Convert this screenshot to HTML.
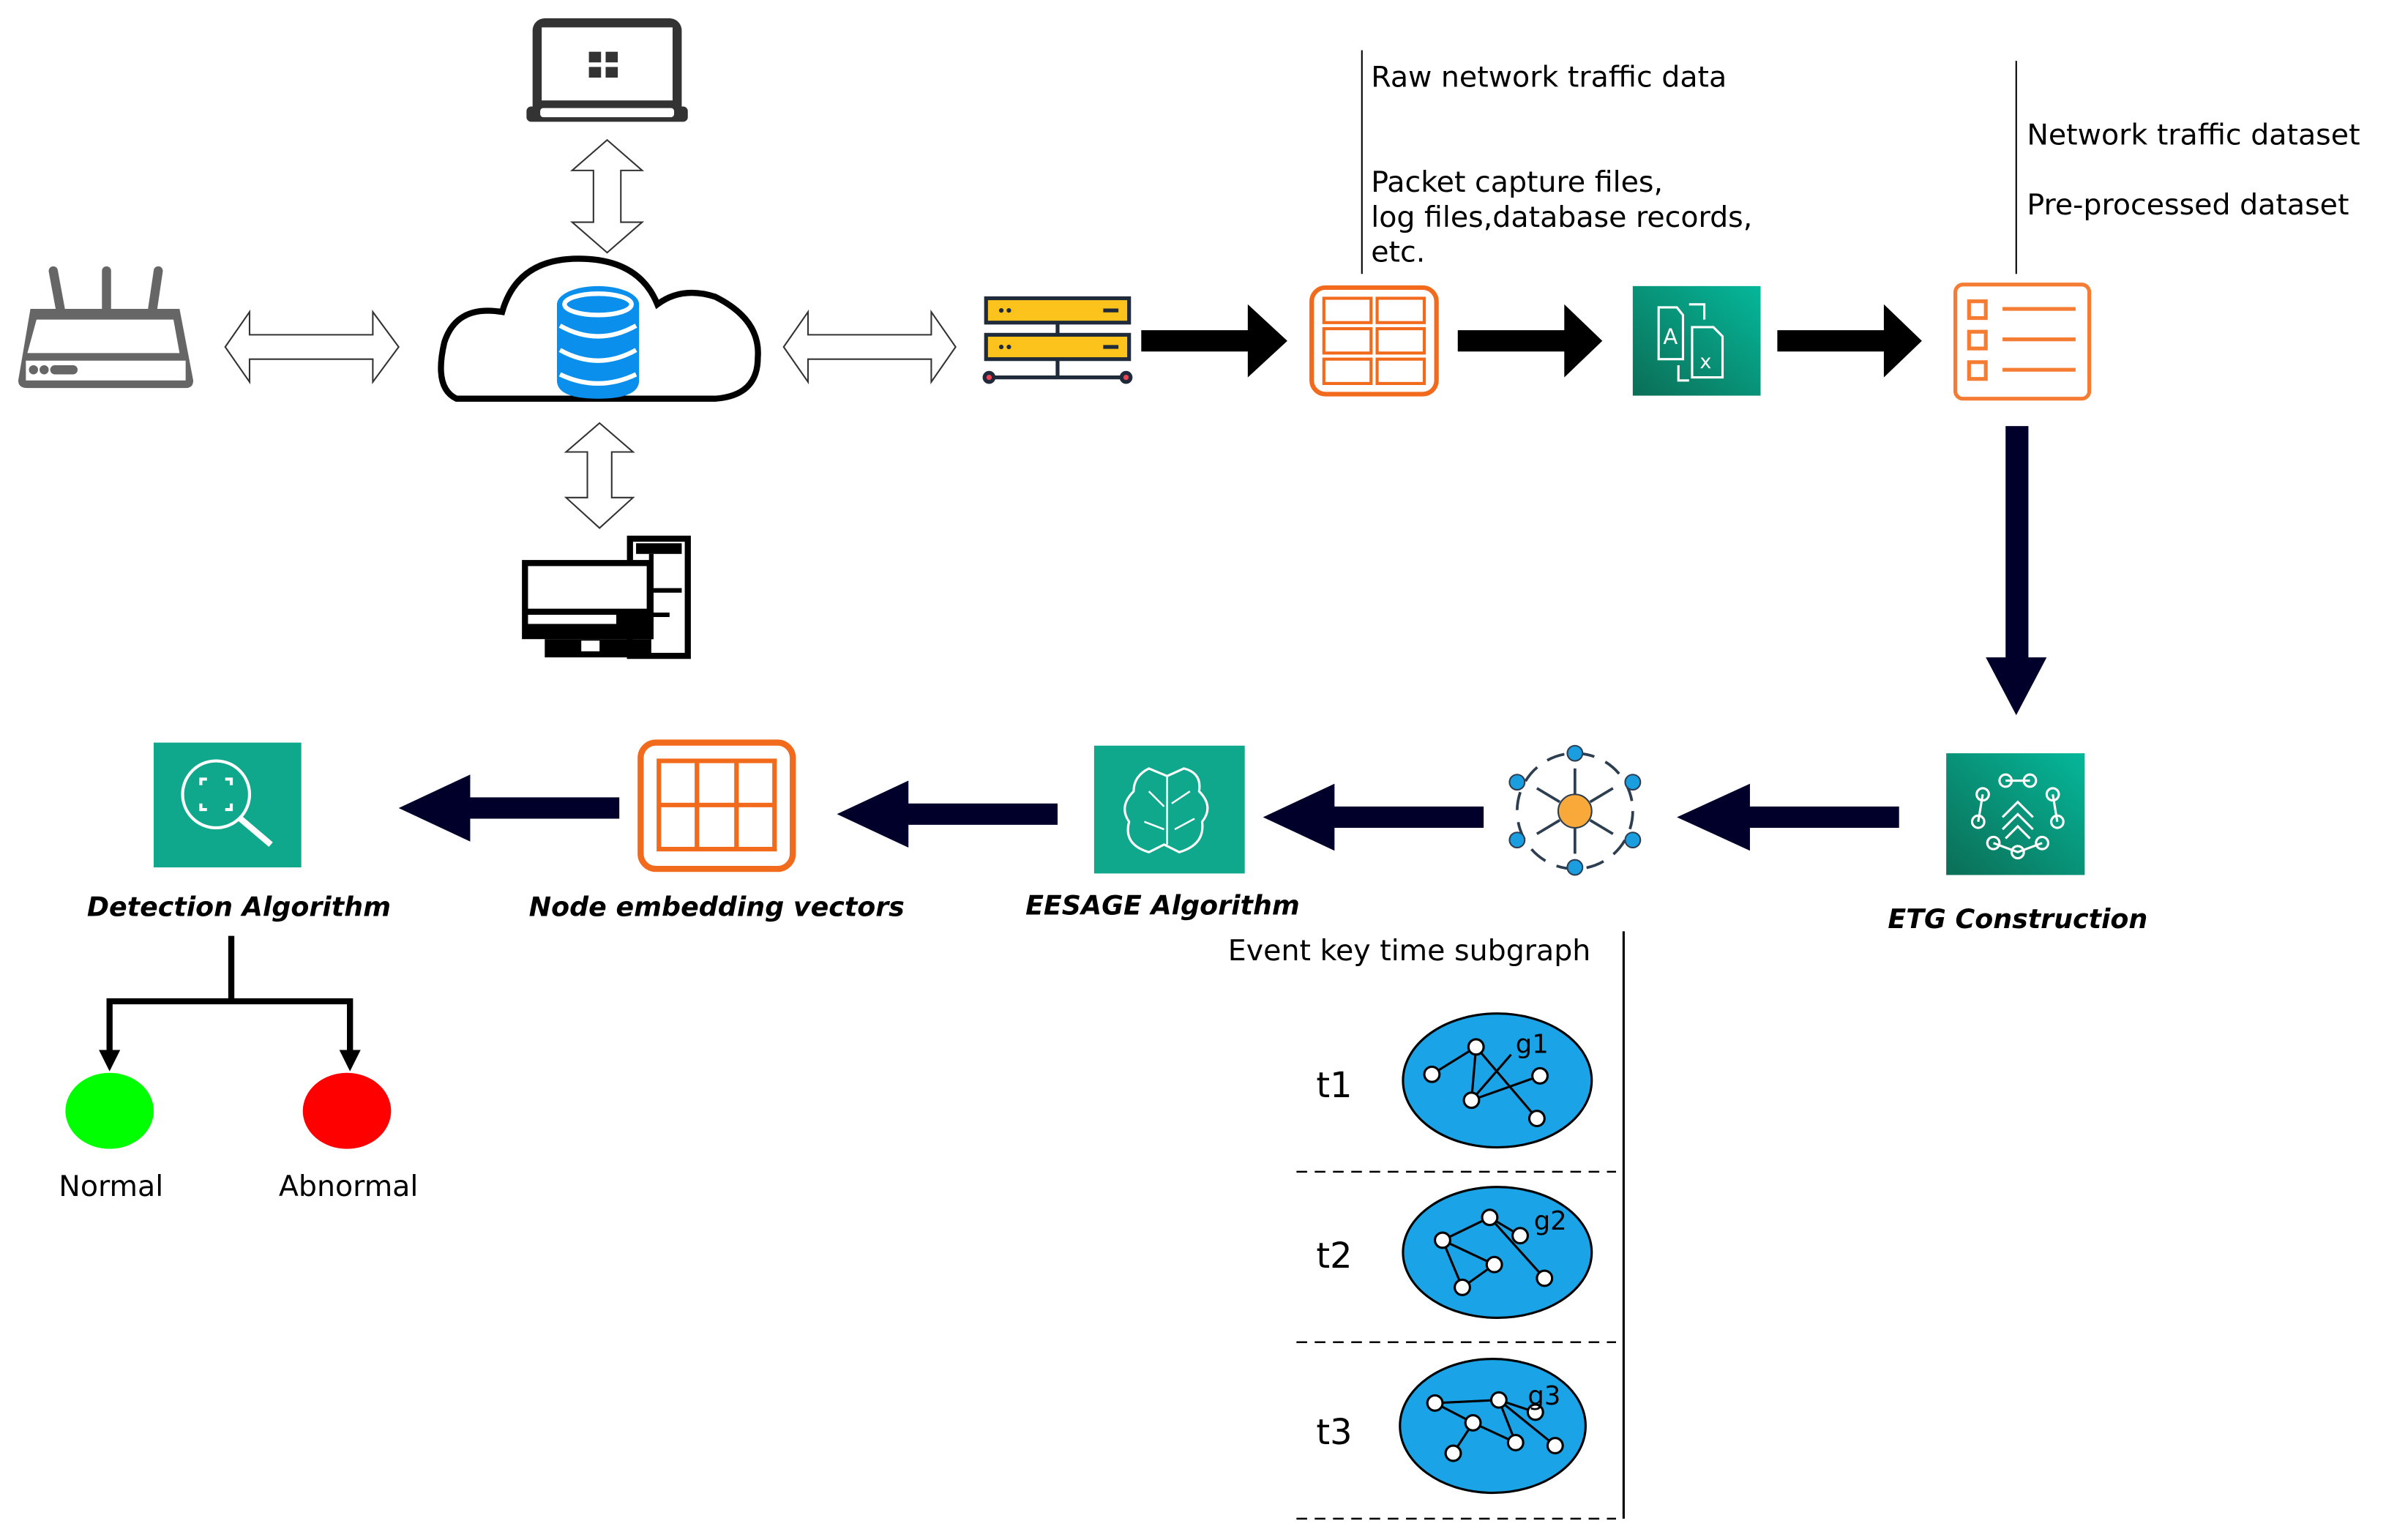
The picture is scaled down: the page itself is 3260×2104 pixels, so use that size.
<!DOCTYPE html>
<html><head><meta charset="utf-8"><style>html,body{margin:0;padding:0;background:#fff}svg{display:block}text{font-family:"DejaVu Sans","Liberation Sans",sans-serif}</style></head><body>
<svg width="3260" height="2104" viewBox="0 0 1568 1012" preserveAspectRatio="none" xmlns="http://www.w3.org/2000/svg">
<defs>
<linearGradient id="gr" x1="0" y1="1" x2="1" y2="0"><stop offset="0" stop-color="#0b6e56"/><stop offset="1" stop-color="#05b79a"/></linearGradient>
</defs>
<!-- router -->
<g fill="#666" stroke="#666">
<line x1="35" y1="178" x2="40" y2="205" stroke-width="6" stroke-linecap="round"/>
<line x1="70" y1="178" x2="70" y2="205" stroke-width="6" stroke-linecap="round"/>
<line x1="104" y1="178" x2="100" y2="205" stroke-width="6" stroke-linecap="round"/>
<path d="M20 203 H118 L127 250 Q127 255 122 255 H18 Q12 255 12 250 Z" stroke="none"/>
<path d="M24 210 H114 L118 232 H18 Z" fill="#fff" stroke="none"/>
<rect x="17" y="237" width="105" height="13" fill="#fff" stroke="none"/>
<circle cx="22" cy="243" r="3" stroke="none"/><circle cx="29" cy="243" r="3" stroke="none"/><rect x="33" y="240" width="18" height="6" rx="3" stroke="none"/>
</g>
<!-- double arrows -->
<g fill="#fff" stroke="#333" stroke-width="1">
<path d="M148 228 L164 205 V220 H245 V205 L262 228 L245 251 V236 H164 V251 Z"/>
<path d="M515 228 L531 205 V220 H612 V205 L628 228 L612 251 V236 H531 V251 Z"/>
<path d="M399 92 L422 112 H408 V146 H422 L399 166 L376 146 H390 V112 H376 Z"/>
<path d="M394 278 L416 297 H402 V327 H416 L394 347 L372 327 H386 V297 H372 Z"/>
</g>
<!-- laptop -->
<g fill="#333">
<rect x="350" y="12" width="98" height="66" rx="8"/>
<rect x="356" y="18" width="86" height="48" fill="#fff"/>
<rect x="346" y="70" width="106" height="10" rx="3"/>
<rect x="355" y="71" width="88" height="6" rx="2" fill="#fff"/>
<rect x="387" y="34" width="8" height="7"/><rect x="398" y="34" width="8" height="7"/><rect x="387" y="44" width="8" height="7"/><rect x="398" y="44" width="8" height="7"/>
</g>
<!-- cloud -->
<path d="M300 262 Q285 255 292 225 Q300 200 330 205 Q340 170 380 170 Q420 170 432 200 Q448 188 470 195 Q500 210 498 235 Q498 260 470 262 Z" fill="#fff" stroke="#000" stroke-width="4"/>
<g fill="#0a8fec">
<ellipse cx="393" cy="200" rx="27" ry="12"/>
<path d="M366 200 V250 Q366 262 393 262 Q420 262 420 250 V200 Z"/>
</g>
<g fill="none" stroke="#fff" stroke-width="3">
<ellipse cx="393" cy="200" rx="22" ry="7"/>
<path d="M368 214 Q393 228 418 214 M368 230 Q393 244 418 230 M368 246 Q393 258 418 246"/>
</g>
<!-- desktop -->
<rect x="414" y="354" width="38" height="77" fill="#fff" stroke="#000" stroke-width="4"/>
<rect x="418" y="357" width="30" height="7" fill="#000"/>
<path d="M428 364 V420 M428 388 H448 M428 404 H440" stroke="#000" stroke-width="3" fill="none"/>
<rect x="343" y="368" width="86" height="52" fill="#000"/>
<rect x="347" y="372" width="78" height="28" fill="#fff"/>
<rect x="347" y="404" width="58" height="6" fill="#fff"/>
<rect x="358" y="420" width="70" height="12" fill="#000"/>
<rect x="382" y="421" width="12" height="7" fill="#fff"/>
<!-- server -->
<g stroke="#1f2a3a" stroke-width="2.5">
<rect x="648" y="196" width="94" height="16" fill="#fbc31b"/>
<rect x="648" y="220" width="94" height="16" fill="#fbc31b"/>
<line x1="695" y1="212" x2="695" y2="220"/><line x1="695" y1="236" x2="695" y2="248"/>
<line x1="650" y1="248" x2="740" y2="248"/>
<circle cx="650" cy="248" r="3" fill="#e45"/><circle cx="740" cy="248" r="3" fill="#e45"/>
<line x1="725" y1="204" x2="735" y2="204"/><line x1="725" y1="228" x2="735" y2="228"/>
</g>
<g fill="#1f2a3a"><circle cx="658" cy="204" r="1.5"/><circle cx="663" cy="204" r="1.5"/><circle cx="658" cy="228" r="1.5"/><circle cx="663" cy="228" r="1.5"/></g>
<!-- black arrows -->
<g fill="#000">
<path d="M750 217 H820 V200 L846 224 L820 248 V231 H750 Z"/>
<path d="M958 217 H1028 V200 L1053 224 L1028 248 V231 H958 Z"/>
<path d="M1168 217 H1238 V200 L1263 224 L1238 248 V231 H1168 Z"/>
</g>
<!-- orange grid -->
<rect x="862" y="189" width="82" height="70" rx="9" fill="none" stroke="#f26b1d" stroke-width="3"/>
<g fill="none" stroke="#f26b1d" stroke-width="2">
<rect x="870" y="196" width="31" height="16"/><rect x="905" y="196" width="31" height="16"/>
<rect x="870" y="216" width="31" height="16"/><rect x="905" y="216" width="31" height="16"/>
<rect x="870" y="236" width="31" height="16"/><rect x="905" y="236" width="31" height="16"/>
</g>
<!-- translate -->
<rect x="1073" y="188" width="84" height="72" fill="url(#gr)"/>
<g fill="none" stroke="#fff" stroke-width="1.5"><path d="M1090 202 H1102 L1106 207 V236 H1090 Z M1112 215 H1126 L1132 221 V248 H1112 Z"/><path d="M1110 200 H1120 V210 M1103 240 V250 H1110"/></g>
<text x="1093" y="226" fill="#fff" font-size="14">A</text><text x="1117" y="242" fill="#fff" font-size="13">x</text>
<!-- orange list -->
<rect x="1285" y="187" width="88" height="75" rx="5" fill="none" stroke="#f57c33" stroke-width="2.5"/>
<g fill="none" stroke="#f57c33" stroke-width="2.5"><rect x="1294" y="198" width="11" height="11"/><rect x="1294" y="218" width="11" height="11"/><rect x="1294" y="238" width="11" height="11"/><path d="M1316 203 H1364 M1316 223 H1364 M1316 243 H1364"/></g>
<!-- texts top -->
<line x1="895" y1="33" x2="895" y2="180" stroke="#000"/>
<g font-size="19" fill="#000"><text x="901" y="57">Raw network traffic data</text><text x="901" y="126">Packet capture files,</text><text x="901" y="149">log files,database records,</text><text x="901" y="172">etc.</text>
<text x="1332" y="95">Network traffic dataset</text><text x="1332" y="141">Pre-processed dataset</text></g>
<line x1="1325" y1="40" x2="1325" y2="180" stroke="#000"/>
<!-- navy arrows -->
<g fill="#00002a">
<path d="M1318 280 H1333 V432 H1345 L1325 470 L1305 432 H1318 Z"/>
<path d="M1248 530 H1150 V515 L1102 537 L1150 559 V544 H1248 Z"/>
<path d="M975 530 H877 V515 L830 537 L877 559 V544 H975 Z"/>
<path d="M695 528 H597 V513 L550 535 L597 557 V542 H695 Z"/>
<path d="M407 524 H309 V509 L262 531 L309 553 V538 H407 Z"/>
</g>
<!-- ETG -->
<rect x="1279" y="495" width="91" height="80" fill="url(#gr)"/>
<g fill="none" stroke="#fff" stroke-width="1.5"><circle cx="1318" cy="513" r="4"/><circle cx="1334" cy="513" r="4"/><circle cx="1303" cy="522" r="4"/><circle cx="1349" cy="522" r="4"/><circle cx="1300" cy="540" r="4"/><circle cx="1352" cy="540" r="4"/><circle cx="1310" cy="554" r="4"/><circle cx="1342" cy="554" r="4"/><circle cx="1326" cy="560" r="4"/><path d="M1318 513 H1334 M1303 522 L1300 540 M1349 522 L1352 540 M1310 554 L1326 560 L1342 554 M1316 537 L1326 527 L1336 537 M1316 545 L1326 535 L1336 545 M1318 551 L1326 543 L1334 551"/></g>
<text x="1326" y="610" font-size="17.5" font-weight="bold" font-style="italic" text-anchor="middle">ETG Construction</text>
<!-- network icon -->
<g stroke="#2c3e50" stroke-width="1.8" fill="none"><circle cx="1035" cy="533" r="38" stroke-dasharray="12 8"/>
<path d="M1035 522 V505 M1035 544 V561 M1025 527 L1010 518 M1045 527 L1060 518 M1025 539 L1010 548 M1045 539 L1060 548"/></g>
<g fill="#1a9ee0" stroke="#2c3e50" stroke-width="1"><circle cx="1035" cy="495" r="5"/><circle cx="1035" cy="570" r="5"/><circle cx="997" cy="514" r="5"/><circle cx="1073" cy="514" r="5"/><circle cx="997" cy="552" r="5"/><circle cx="1073" cy="552" r="5"/></g>
<circle cx="1035" cy="533" r="11" fill="#f9a93a" stroke="#2c3e50"/>
<!-- EESAGE -->
<rect x="719" y="490" width="99" height="84" fill="#0fa88c"/>
<path d="M755 505 Q745 510 745 520 Q735 530 742 540 Q738 555 755 560 L765 555 L775 560 Q792 555 790 540 Q798 530 788 520 Q790 508 778 505 L767 510 Z" fill="none" stroke="#fff" stroke-width="1.5"/>
<path d="M767 510 V555 M755 520 L765 530 M770 528 L782 520 M752 540 L765 545 M772 545 L785 538" stroke="#fff" stroke-width="1.2" fill="none"/>
<text x="764" y="601" font-size="17.5" font-weight="bold" font-style="italic" text-anchor="middle">EESAGE Algorithm</text>
<!-- node embedding -->
<rect x="421" y="488" width="100" height="83" rx="10" fill="none" stroke="#f26b1d" stroke-width="4"/>
<g fill="none" stroke="#f26b1d" stroke-width="3"><rect x="433" y="500" width="76" height="58"/><path d="M433 529 H509 M458 500 V558 M484 500 V558"/></g>
<text x="471" y="602" font-size="17.5" font-weight="bold" font-style="italic" text-anchor="middle">Node embedding vectors</text>
<!-- detection -->
<rect x="101" y="488" width="97" height="82" fill="#0fa88c"/>
<g fill="none" stroke="#fff" stroke-width="2"><circle cx="142" cy="522" r="22"/><path d="M158 538 L178 555" stroke-width="4"/><path d="M132 516 V512 H136 M148 512 H152 V516 M152 528 V532 H148 M136 532 H132 V528"/></g>
<text x="157" y="602" font-size="17.5" font-weight="bold" font-style="italic" text-anchor="middle">Detection Algorithm</text>
<!-- tree -->
<g stroke="#000" stroke-width="4" fill="none"><path d="M152 615 V658 M72 658 H230 M72 656 V692 M230 656 V692"/></g>
<path d="M65 690 L72 704 L79 690 Z M223 690 L230 704 L237 690 Z" fill="#000"/>
<ellipse cx="72" cy="730" rx="29" ry="25" fill="#0f0"/>
<ellipse cx="228" cy="730" rx="29" ry="25" fill="#f00"/>
<text x="73" y="786" font-size="19" text-anchor="middle">Normal</text>
<text x="229" y="786" font-size="19" text-anchor="middle">Abnormal</text>
<!-- subgraph panel -->
<text x="807" y="631" font-size="19">Event key time subgraph</text>
<line x1="1067" y1="612" x2="1067" y2="998" stroke="#000" stroke-width="1.5"/>
<g stroke="#000" stroke-dasharray="7 5" stroke-width="1.2"><line x1="852" y1="770" x2="1062" y2="770"/><line x1="852" y1="882" x2="1062" y2="882"/><line x1="852" y1="998" x2="1062" y2="998"/></g>
<g font-size="23"><text x="865" y="721">t1</text><text x="865" y="833">t2</text><text x="865" y="949">t3</text></g>
<g stroke="#000" stroke-width="1.5">
<ellipse cx="984" cy="710" rx="62" ry="44" fill="#1aa3e6"/>
<ellipse cx="984" cy="823" rx="62" ry="43" fill="#1aa3e6"/>
<ellipse cx="981" cy="937" rx="61" ry="44" fill="#1aa3e6"/>
<path d="M941 706 L970 688 L1010 735 M970 688 L967 723 L1012 707 M967 723 L993 693" fill="none"/>
<path d="M948 815 L979 800 L1015 840 M979 800 L999 812 M948 815 L982 831 L961 846 M948 815 L961 846" fill="none"/>
<path d="M943 922 L985 920 L1022 950 M968 935 L955 955 M968 935 L996 948 L985 920 L1009 928 M943 922 L968 935" fill="none"/>
<g fill="#fff"><circle cx="941" cy="706" r="5"/><circle cx="970" cy="688" r="5"/><circle cx="1010" cy="735" r="5"/><circle cx="967" cy="723" r="5"/><circle cx="1012" cy="707" r="5"/>
<circle cx="948" cy="815" r="5"/><circle cx="979" cy="800" r="5"/><circle cx="1015" cy="840" r="5"/><circle cx="999" cy="812" r="5"/><circle cx="982" cy="831" r="5"/><circle cx="961" cy="846" r="5"/>
<circle cx="943" cy="922" r="5"/><circle cx="985" cy="920" r="5"/><circle cx="1022" cy="950" r="5"/><circle cx="968" cy="935" r="5"/><circle cx="955" cy="955" r="5"/><circle cx="996" cy="948" r="5"/><circle cx="1009" cy="928" r="5"/></g>
</g>
<g font-size="17"><text x="996" y="692">g1</text><text x="1008" y="808">g2</text><text x="1004" y="923">g3</text></g>
</svg>
</body></html>
